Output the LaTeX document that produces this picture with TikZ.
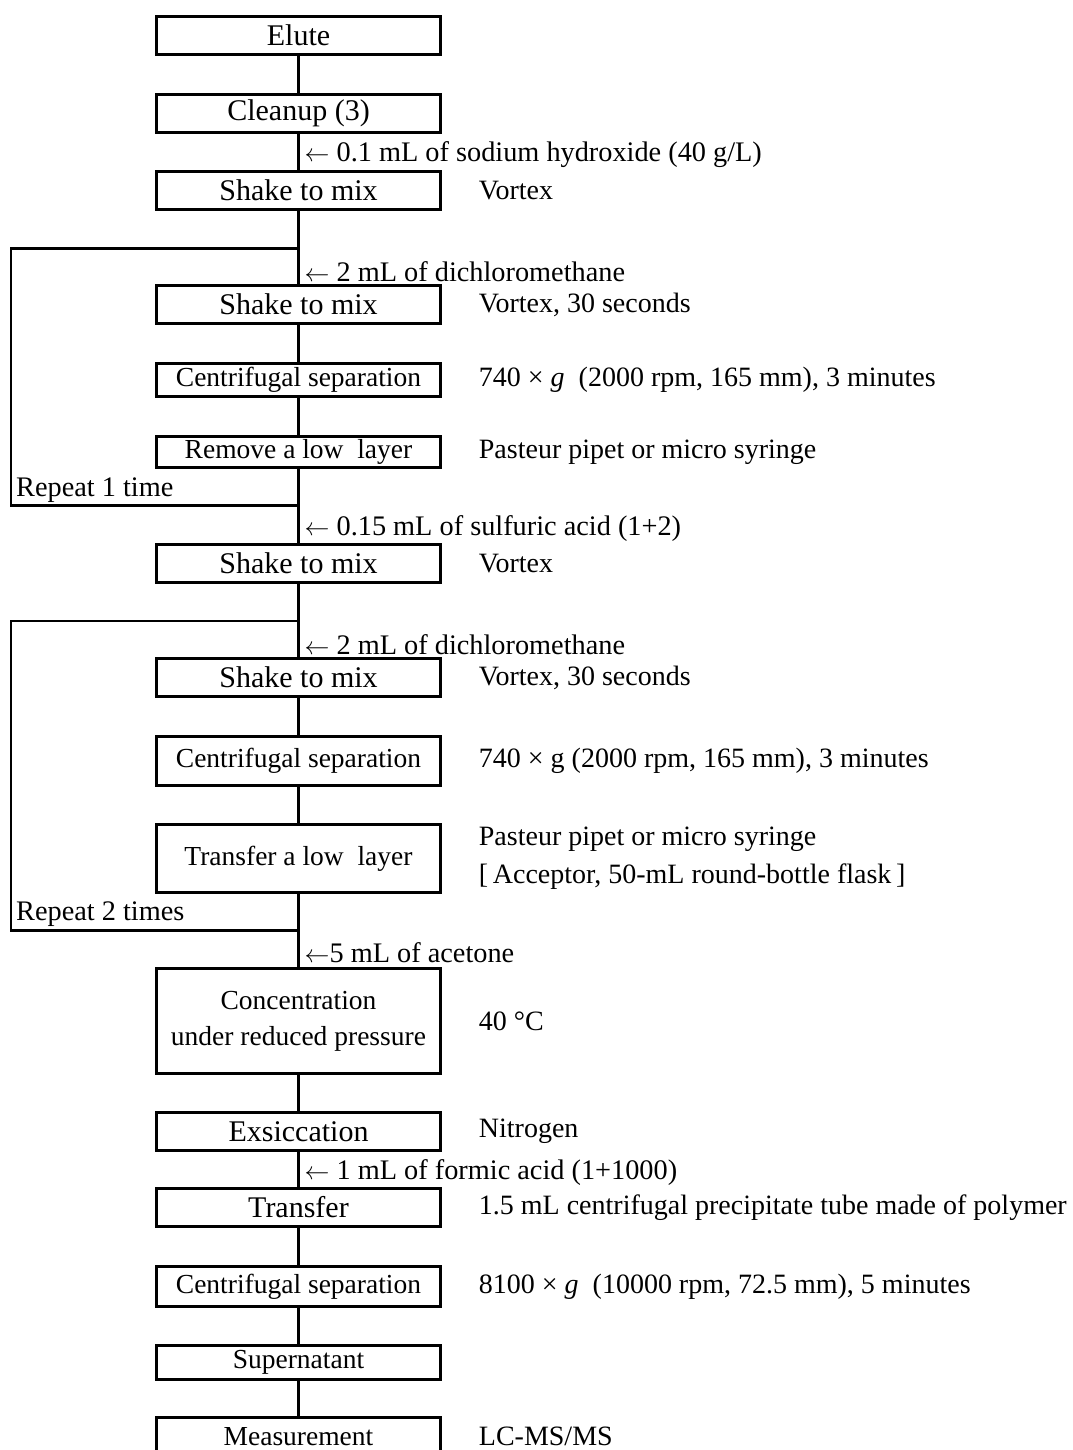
\documentclass[tikz,border=0pt]{standalone}
\usepackage{fontspec}
\setmainfont{Liberation Serif}
\usetikzlibrary{positioning,calc}

\begin{document}
\begin{tikzpicture}[
  x=1pt,y=-1pt,
  node distance=38.6pt,
  box/.style={draw,line width=2.6pt,inner sep=0pt,outer sep=0pt,minimum width=284.4pt,
    minimum height=38.4pt,align=center,font=\fontsize{30}{36}\selectfont},
  sbox/.style={box,font=\fontsize{27.5}{36}\selectfont},
  note/.style={inner sep=0pt,align=left,anchor=west,
    font=\fontsize{28}{38}\selectfont},
  add/.style={inner sep=0pt,font=\fontsize{28.3}{36}\selectfont},
  link/.style={line width=2.6pt}
]
\useasboundingbox (0,0) rectangle (1072,1450);
% main column
\node[box] (elute) at (298.5,35.5) {Elute};
\node[box,below=39.6pt of elute] (cleanup) {Cleanup (3)};
\node[box,below=of cleanup] (shakeA) {Shake to mix};
\node[box,below=75.6pt of shakeA] (shakeB) {Shake to mix};
\node[sbox,minimum height=33.4pt,below=39.6pt of shakeB] (centA) {Centrifugal separation};
\node[sbox,minimum height=31.4pt,below=39.6pt of centA] (removeA) {Remove a low\ \ layer};
\node[box,below=76.6pt of removeA] (shakeC) {Shake to mix};
\node[box,below=75.6pt of shakeC] (shakeD) {Shake to mix};
\node[sbox,minimum height=49.4pt,below=39.6pt of shakeD] (centB) {Centrifugal separation};
\node[sbox,minimum height=68.4pt,below=of centB] (transA) {Transfer a low\ \ layer};
\node[sbox,minimum height=105.4pt,below=75.6pt of transA] (conc) {Concentration\\under reduced pressure};
\node[box,below=of conc] (exsic) {Exsiccation};
\node[box,below=37.6pt of exsic] (transB) {Transfer};
\node[sbox,minimum height=40.4pt,below=39.6pt of transB] (centC) {Centrifugal separation};
\node[sbox,minimum height=34.4pt,below=of centC] (super) {Supernatant};
\node[sbox,below=37.6pt of super] (meas) {Measurement};

% conditions on the right
\node[note,right=38pt of shakeA] {Vortex};
\node[note,right=38pt of shakeB] {Vortex, 30 seconds};
\node[note,right=38pt of centA] {740 × \textit{g}\ \ (2000 rpm, 165 mm), 3 minutes};
\node[note,right=38pt of removeA] {Pasteur pipet or micro syringe};
\node[note,right=38pt of shakeC] {Vortex};
\node[note,right=38pt of shakeD] {Vortex, 30 seconds};
\node[note,right=38pt of centB] {740 × g (2000 rpm, 165 mm), 3 minutes};
\node[note,right=38pt of transA] {Pasteur pipet or micro syringe\\{}[\,Acceptor, 50-mL round-bottle flask\,]};
\node[note,right=38pt of conc] {40 °C};
\node[note,right=38pt of exsic] {Nitrogen};
\node[note,right=38pt of transB] {1.5 mL centrifugal precipitate tube made of polymer};
\node[note,right=38pt of centC] {8100 × \textit{g}\ \ (10000 rpm, 72.5 mm), 5 minutes};
\node[note,right=38pt of meas] {LC-MS/MS};

% reagents added
\node[add,above right=3pt and 6pt of shakeA.north] (naoh) {$\leftarrow$ 0.1 mL of sodium hydroxide (40 g/L)};
\node[add,above right=3pt and 6pt of shakeB.north] (dcmA) {$\leftarrow$ 2 mL of dichloromethane};
\node[add,above right=3pt and 6pt of shakeC.north] (acid) {$\leftarrow$ 0.15 mL of sulfuric acid (1+2)};
\node[add,above right=3pt and 6pt of shakeD.north] (dcmB) {$\leftarrow$ 2 mL of dichloromethane};
\node[add,above right=5pt and 6pt of conc.north] (acetone) {$\leftarrow$5 mL of acetone};
\node[add,above right=3pt and 6pt of transB.north] (formic) {$\leftarrow$ 1 mL of formic acid (1+1000)};

% repeat loops
\coordinate (loopAtop) at ([yshift=37pt]shakeB.north);
\coordinate (loopAbot) at ([yshift=-38pt]removeA.south);
\coordinate (loopAcorner) at ($(loopAbot)+(-287.5,0)$);
\coordinate (loopBtop) at ([yshift=37.5pt]shakeD.north);
\coordinate (loopBbot) at ([yshift=-37.5pt]transA.south);
\coordinate (loopBcorner) at ($(loopBbot)+(-287.5,0)$);
\node[add,above right=3pt and 5pt of loopAcorner] {Repeat 1 time};
\node[add,above right=3pt and 5pt of loopBcorner] {Repeat 2 times};

\draw[link] (elute) -- (cleanup);
\draw[link] (cleanup) -- (shakeA);
\draw[link] (shakeA) -- (shakeB);
\draw[link] (shakeB) -- (centA);
\draw[link] (centA) -- (removeA);
\draw[link] (removeA) -- (shakeC);
\draw[link] (shakeC) -- (shakeD);
\draw[link] (shakeD) -- (centB);
\draw[link] (centB) -- (transA);
\draw[link] (transA) -- (conc);
\draw[link] (conc) -- (exsic);
\draw[link] (exsic) -- (transB);
\draw[link] (transB) -- (centC);
\draw[link] (centC) -- (super);
\draw[link] (super) -- (meas);
\draw[link] (loopAtop) -| (loopAcorner) -- (loopAbot);
\draw[link] (loopBtop) -| (loopBcorner) -- (loopBbot);
\end{tikzpicture}
\end{document}
